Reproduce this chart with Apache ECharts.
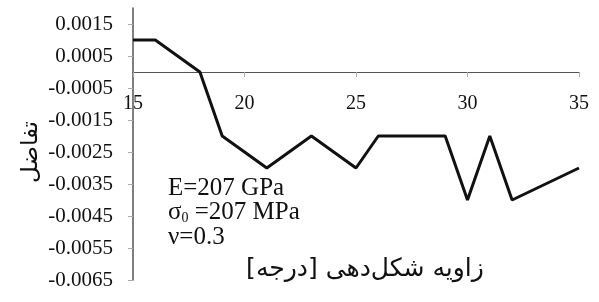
<!DOCTYPE html>
<html>
<head>
<meta charset="utf-8">
<script src="https://cdn.jsdelivr.net/npm/echarts@6/dist/echarts.min.js"></script>
<style>
html,body{margin:0;padding:0;background:#fff;}
#chart{width:599px;height:302px;}
</style>
</head>
<body>
<div id="chart"></div>
<script>
// زاویه (درجه) و تفاضل
var angles = [15, 16, 18, 19, 21, 23, 25, 26, 29, 30, 31, 32, 35];
var diffs = [0.001, 0.001, 0, -0.002, -0.003, -0.002, -0.003, -0.002, -0.002, -0.004, -0.002, -0.004, -0.003];
var xTicks = [15, 20, 25, 30, 35];
var xName = 'زاویه شکل‌دهی [درجه]';
var yName = 'تفاضل';

var points = angles.map(function (a, i) { return [a, diffs[i]]; });

function drawChart(div_id){
    var myChart = echarts.init(document.getElementById(div_id));
    myChart.setOption({
        animation: false,
        grid: { left: 133, right: 20, top: 8, bottom: 22, containLabel: false, outerBoundsMode: 'none' },
        title: {
            left: 163, top: 171,
            text: 'E=207 GPa\n{s|σ}{sub|0}{s| =207 MPa}\nν=0.3',
            textStyle: {
                fontFamily: 'Liberation Serif', fontSize: 25, fontWeight: 'normal',
                color: '#111', lineHeight: 24.5,
                rich: {
                    s: { fontFamily: 'Liberation Serif', fontSize: 25, color: '#111' },
                    sub: { fontFamily: 'Liberation Serif', fontSize: 14, color: '#111', verticalAlign: 'bottom', padding: [10, 0, 0, 0] }
                }
            }
        },
        graphic: [
            {
                type: 'text', x: 365, y: 269,
                style: { text: xName, fontFamily: 'DejaVu Sans', fontSize: 25, fill: '#111', align: 'center', verticalAlign: 'middle' }
            },
            {
                type: 'text', x: 31, y: 152, rotation: Math.PI / 2,
                style: { text: yName, fontFamily: 'DejaVu Sans', fontSize: 23, fill: '#111', align: 'center', verticalAlign: 'middle' }
            }
        ],
        xAxis: {
            type: 'value',
            min: 15, max: 35, interval: 5,
            offset: -208,
            axisLine: { onZero: false, lineStyle: { color: '#555', width: 1.2 } },
            axisTick: { show: true, length: 5, inside: false, lineStyle: { color: '#aaa' } },
            splitLine: { show: false },
            axisLabel: {
                margin: 22, color: '#111', fontFamily: 'Liberation Serif', fontSize: 20,
                formatter: function (v) { return xTicks.indexOf(v) >= 0 ? String(v) : ''; }
            }
        },
        yAxis: {
            type: 'value',
            min: -0.0065, max: 0.002, interval: 0.001,
            axisLine: { show: true, lineStyle: { color: '#555', width: 1.5 } },
            axisTick: { show: true, length: 5, lineStyle: { color: '#aaa' } },
            splitLine: { show: false },
            axisLabel: {
                margin: 20, color: '#111', fontFamily: 'Liberation Serif', fontSize: 21,
                showMaxLabel: false,
                formatter: function (v) { return v.toFixed(4); }
            }
        },
        series: [
            {
                type: 'line',
                data: points,
                symbol: 'none',
                lineStyle: { color: '#111', width: 3 }
            }
        ]
    });
}
drawChart('chart');
</script>
</body>
</html>
